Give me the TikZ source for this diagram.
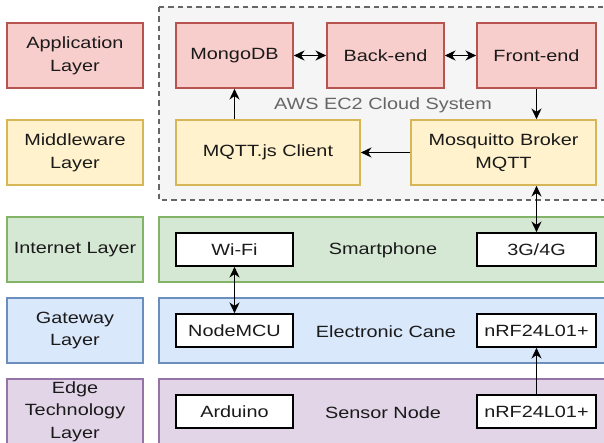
\documentclass[tikz,border=0pt]{standalone}
\usepackage{fontspec}
\setmainfont{Liberation Sans}[FakeStretch=1.22]
\usetikzlibrary{arrows.meta}
\definecolor{redF}{HTML}{F8CECC}\definecolor{redD}{HTML}{B85450}
\definecolor{yelF}{HTML}{FFF2CC}\definecolor{yelD}{HTML}{D6B656}
\definecolor{grnF}{HTML}{D5E8D4}\definecolor{grnD}{HTML}{82B366}
\definecolor{bluF}{HTML}{DAE8FC}\definecolor{bluD}{HTML}{6C8EBF}
\definecolor{purF}{HTML}{E1D5E7}\definecolor{purD}{HTML}{9673A6}
\definecolor{gryF}{HTML}{F5F5F5}\definecolor{gryD}{HTML}{666666}
\definecolor{txt}{HTML}{1A1A1A}
\tikzset{
  box/.style={draw, line width=1.2pt, align=center, inner sep=0pt, text=txt,
    font=\fontsize{12.2}{17}\selectfont, minimum height=48.75pt},
  layerbox/.style={box, minimum width=102pt},
  redbox/.style={box, fill=redF, draw=redD},
  yelbox/.style={box, fill=yelF, draw=yelD},
  whitebox/.style={box, fill=white, draw=black, line width=1.2pt, minimum width=88.5pt, minimum height=24.75pt},
  lbl/.style={text=txt, font=\fontsize{12.2}{17}\selectfont},
  tip/.tip={Stealth[length=8pt,width=7.5pt,inset=2.5pt]},
  arr/.style={line width=1.1pt, -tip},
  biarr/.style={line width=1.1pt, tip-tip},
}
\begin{document}
\begin{tikzpicture}[x=0.75pt,y=-0.75pt]
\useasboundingbox (0,0) rectangle (604,443);
% layer labels
\node[layerbox, fill=redF, draw=redD] (lapp) at (75,55.5) {Application\\Layer};
\node[layerbox, fill=yelF, draw=yelD] (lmid) at (75,152.5) {Middleware\\Layer};
\node[layerbox, fill=grnF, draw=grnD] (lint) at (75,249.5) {Internet Layer};
\node[layerbox, fill=bluF, draw=bluD] (lgw) at (75,330.5) {Gateway\\Layer};
\node[layerbox, fill=purF, draw=purD] (ledge) at (75,411.5) {Edge\\Technology\\Layer};
% cloud container
\draw[fill=gryF, draw=gryD, line width=0.9pt, dash pattern=on 4pt off 3pt] (159,7) rectangle (608,200);
\node[text=gryD, font=\fontsize{12.2}{17}\selectfont] (aws) at (383,105) {AWS EC2 Cloud System};
% rows
\draw[fill=grnF, draw=grnD, line width=1.2pt] (159,217) rectangle (612,282);
\draw[fill=bluF, draw=bluD, line width=1.2pt] (159,298) rectangle (612,363);
\draw[fill=purF, draw=purD, line width=1.2pt] (159,379) rectangle (612,444);
\node[lbl] (smart) at (383,250.5) {Smartphone};
\node[lbl] (cane) at (386,331.5) {Electronic Cane};
\node[lbl] (sensor) at (383,412.5) {Sensor Node};
% cloud nodes
\node[redbox, minimum width=87.75pt] (mongo) at (234.5,55.5) {MongoDB};
\node[redbox, minimum width=87.75pt] (back) at (385.5,55.5) {Back-end};
\node[redbox, minimum width=89.25pt] (front) at (536.5,55.5) {Front-end};
\node[yelbox, minimum width=138pt] (client) at (268,152.5) {MQTT.js Client};
\node[yelbox, minimum width=138.75pt] (mosq) at (503.5,152.5) {Mosquitto Broker\\MQTT};
% white boxes
\node[whitebox, minimum width=87.75pt] (wifi) at (234.5,249.5) {Wi-Fi};
\node[whitebox, minimum width=89.25pt] (g34) at (536.5,249.5) {3G/4G};
\node[whitebox, minimum width=87.75pt] (nodemcu) at (234.5,330.5) {NodeMCU};
\node[whitebox, minimum width=89.25pt] (nrfa) at (536.5,330.5) {nRF24L01+};
\node[whitebox, minimum width=87.75pt] (ard) at (234.5,411.5) {Arduino};
\node[whitebox, minimum width=89.25pt] (nrfb) at (536.5,411.5) {nRF24L01+};
% connectors
\draw[biarr] (mongo.east) -- (back.west);
\draw[biarr] (back.east) -- (front.west);
\draw[arr] (front.south) -- (front.south |- mosq.north);
\draw[arr] (mosq.west) -- (client.east);
\draw[arr] (client.north -| mongo.south) -- (mongo.south);
\draw[biarr] (g34.north |- mosq.south) -- (g34.north);
\draw[biarr] (wifi.south) -- (nodemcu.north);
\draw[arr] (nrfb.north) -- (nrfa.south);
\end{tikzpicture}
\end{document}
